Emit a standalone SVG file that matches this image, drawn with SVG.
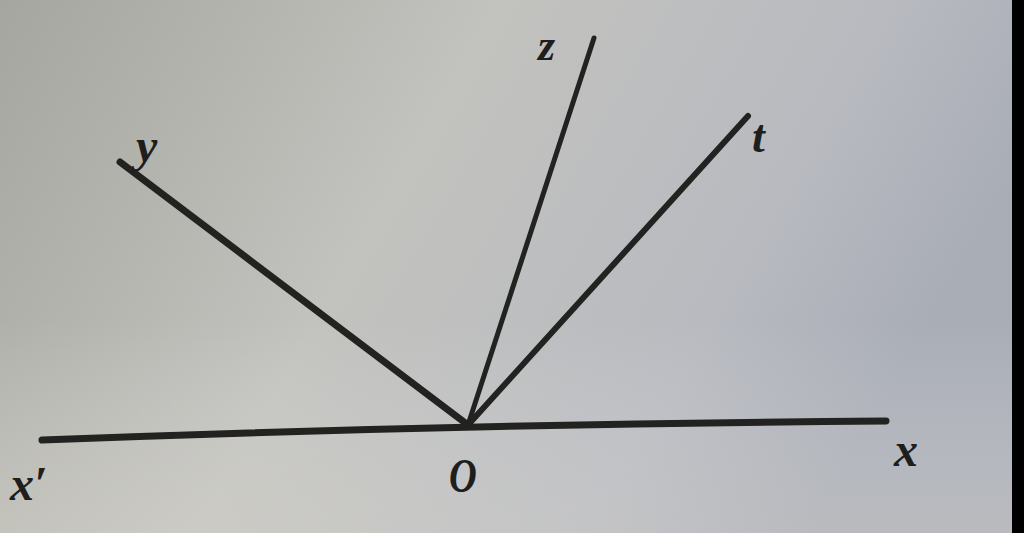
<svg xmlns="http://www.w3.org/2000/svg" width="1024" height="533" viewBox="0 0 1024 533">
<defs>
<linearGradient id="bg" x1="0" y1="0" x2="1" y2="0.3">
<stop offset="0" stop-color="#a6a6a0"/>
<stop offset="0.45" stop-color="#c2c2be"/>
<stop offset="0.8" stop-color="#b8bac0"/>
<stop offset="1" stop-color="#a9adb6"/>
</linearGradient>
<linearGradient id="bot" x1="0" y1="0" x2="0" y2="1">
<stop offset="0.6" stop-color="#ffffff" stop-opacity="0"/>
<stop offset="1" stop-color="#e8e4d8" stop-opacity="0.25"/>
</linearGradient>
<style>
.ray{stroke:#222220;stroke-width:7;stroke-linecap:round;fill:none}
.lbl{font-family:"Liberation Serif",serif;font-style:italic;font-weight:bold;fill:#1e1e1c}
</style>
</defs>
<rect width="1024" height="533" fill="url(#bg)"/>
<rect width="1024" height="533" fill="url(#bot)"/>
<rect x="1012" y="0" width="12" height="533" fill="#000"/>
<g id="connectors">
<path class="ray" d="M42,440 Q460,424 886,421"/>
<line class="ray" x1="468" y1="425" x2="120" y2="162"/>
<line class="ray" x1="468" y1="425" x2="594" y2="38" style="stroke-width:5"/>
<line class="ray" x1="468" y1="425" x2="748" y2="116" style="stroke-width:6"/>
</g>
<g id="label-z"><text class="lbl" x="538" y="60" font-size="44">z</text></g>
<g id="label-y"><text class="lbl" x="136" y="162" font-size="48">y</text></g>
<g id="label-t"><text class="lbl" x="752" y="152" font-size="46">t</text></g>
<g id="label-xprime"><text class="lbl" x="10" y="500" font-size="48">x′</text></g>
<g id="label-O"><text class="lbl" x="449" y="492" font-size="48" transform="translate(449 0) scale(0.8 1) translate(-449 0)">O</text></g>
<g id="label-x"><text class="lbl" x="894" y="466" font-size="48">x</text></g>
</svg>
